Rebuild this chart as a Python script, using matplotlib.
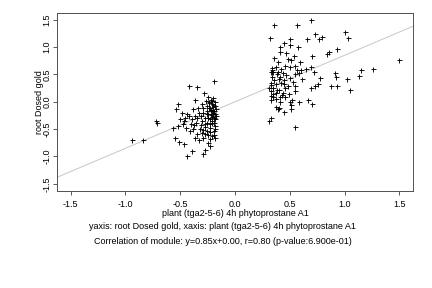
import matplotlib
matplotlib.use("Agg")
import matplotlib.pyplot as plt
import numpy as np

# left cluster (x, y)
left_x = [-0.417, -0.344, -0.189, -0.362, -0.280, -0.243, -0.222, -0.204, -0.234, -0.210,
          -0.252, -0.228, -0.198, -0.182, -0.173, -0.213, -0.259, -0.289, -0.243, -0.198,
          -0.173, -0.274, -0.228, -0.182, -0.304, -0.259, -0.213, -0.313, -0.274, -0.228,
          -0.182, -0.319, -0.350, -0.304, -0.274, -0.243, -0.213, -0.192, -0.182, -0.289,
          -0.228, -0.182, -0.517, -0.538, -0.484, -0.435, -0.456, -0.502, -0.465, -0.477,
          -0.517, -0.563, -0.447, -0.404, -0.374, -0.395, -0.417, -0.365, -0.344, -0.325,
          -0.380, -0.547, -0.508, -0.465, -0.228, -0.274, -0.395, -0.435, -0.289, -0.365,
          -0.325, -0.249, -0.411, -0.380, -0.356, -0.335, -0.304, -0.265, -0.289, -0.192,
          -0.210, -0.252, -0.289, -0.313,
          -0.94, -0.84, -0.72, -0.71,
          -0.22, -0.20, -0.24, -0.19, -0.21, -0.23, -0.18, -0.25, -0.20, -0.24,
          -0.19, -0.22, -0.26, -0.18, -0.21, -0.23, -0.19, -0.27]
left_y = [0.295, 0.277, 0.387, 0.037, 0.154, 0.092, 0.037, 0.061, -0.025, -0.043,
          -0.074, -0.105, -0.086, -0.012, -0.135, -0.166, -0.166, -0.197, -0.228, -0.228,
          -0.258, -0.289, -0.308, -0.320, -0.351, -0.381, -0.394, -0.430, -0.455, -0.474,
          -0.443, -0.504, -0.597, -0.578, -0.597, -0.615, -0.627, -0.535, -0.504, -0.658,
          -0.677, -0.658, -0.043, -0.135, -0.197, -0.228, -0.289, -0.320, -0.351, -0.412,
          -0.443, -0.474, -0.474, -0.412, -0.430, -0.320, -0.258, -0.258, -0.289, -0.197,
          -0.135, -0.658, -0.738, -0.763, -0.800, -0.873, -0.904, -0.996, -0.947, -0.658,
          -0.701, -0.750, -0.535, -0.504, -0.381, -0.105, -0.043, 0.018, -0.105, -0.166,
          -0.271, -0.535, -0.517, -0.258,
          -0.70, -0.70, -0.35, -0.39,
          -0.15, -0.20, -0.12, -0.30, -0.35, -0.40, -0.08, -0.30, -0.05, 0.00,
          -0.38, -0.25, -0.22, -0.22, 0.02, -0.55, -0.60, -0.40]

# right cluster
right_x = [0.36, 0.57, 0.69, 0.32, 0.50, 0.45, 0.41, 0.50, 0.575, 0.66,
           0.73, 0.77, 0.79, 1.00, 1.03, 0.41, 0.465, 0.36, 0.48, 0.51,
           0.54, 0.59, 0.705, 0.84, 0.86, 0.93, 0.395, 1.50, 0.34, 0.377,
           0.42, 0.456, 0.50, 0.545, 0.57, 0.60, 0.65, 0.69, 0.72, 0.33,
           0.34, 0.35, 0.38, 0.41, 0.47, 0.50, 0.55, 0.58, 0.61, 0.78,
           0.915, 0.92, 1.025, 1.13, 1.15, 1.26, 0.33, 0.37, 0.45, 0.45,
           0.48, 0.53, 0.545, 0.755, 0.73, 0.875, 0.93, 1.05, 0.69, 0.31,
           0.345, 0.33, 0.37, 0.40, 0.435, 0.49, 0.545, 0.33, 0.35, 0.37,
           0.41, 0.456, 0.52, 0.33, 0.41, 0.505, 0.58, 0.67, 0.70, 0.51,
           0.37, 0.40, 0.39, 0.445, 0.515, 0.31, 0.33, 0.55,
           0.34, 0.36, 0.33, 0.38, 0.42, 0.44, 0.35, 0.39, 0.46, 0.43, 0.34, 0.40]
right_y = [1.40, 1.40, 1.49, 1.16, 1.14, 1.08, 1.01, 1.03, 1.01, 1.14,
           1.24, 1.14, 1.18, 1.27, 1.16, 0.92, 0.90, 0.81, 0.79, 0.77,
           0.83, 0.73, 0.83, 0.88, 0.92, 0.96, 0.73, 0.76, 0.62, 0.63,
           0.60, 0.65, 0.63, 0.66, 0.58, 0.59, 0.60, 0.64, 0.55, 0.54,
           0.55, 0.54, 0.51, 0.46, 0.49, 0.44, 0.50, 0.52, 0.41, 0.44,
           0.535, 0.46, 0.41, 0.48, 0.58, 0.60, 0.345, 0.33, 0.40, 0.33,
           0.29, 0.37, 0.28, 0.33, 0.295, 0.295, 0.295, 0.22, 0.25, 0.25,
           0.26, 0.19, 0.17, 0.215, 0.17, 0.15, 0.20, 0.11, 0.09, 0.06,
           0.08, 0.08, 0.04, 0.04, 0.00, 0.00, 0.005, 0.04, -0.04, -0.055,
           -0.09, -0.12, -0.135, -0.18, -0.135, -0.35, -0.30, -0.46,
           0.45, 0.40, 0.30, 0.22, 0.35, 0.52, 0.15, 0.55, 0.25, 0.12, 0.58, 0.42]

slope = 0.85
intercept = 0.00
xticks = [-1.5, -1.0, -0.5, 0.0, 0.5, 1.0, 1.5]
yticks = [-1.5, -1.0, -0.5, 0.0, 0.5, 1.0, 1.5]

plt.rcParams['font.family'] = ['Liberation Sans', 'DejaVu Sans']

fig = plt.figure(figsize=(6, 4), dpi=72)
ax = fig.add_axes([0.132, 0.338, 0.824, 0.617])

lim = 1.625
ax.plot([-lim, lim], [slope * -lim + intercept, slope * lim + intercept],
        color='#c8c8c8', linewidth=1, zorder=1)
ax.scatter(left_x + right_x, left_y + right_y, marker='+', s=25,
           color='black', linewidths=0.9, zorder=2)

ax.set_xlim(-lim, lim)
ax.set_ylim(-lim, lim)
ax.set_xticks(xticks)
ax.set_yticks(yticks)
ax.set_xticklabels(["%.1f" % t for t in xticks])
ax.set_yticklabels(["%.1f" % t for t in yticks], rotation=90, va='center')
ax.tick_params(labelsize=9, length=4, width=0.8, colors='#333333',
               labelcolor='black', pad=5)
ax.tick_params(axis='y', pad=1.5)
for s in ax.spines.values():
    s.set_color('#555555')
    s.set_linewidth(1)

ax.set_xlabel("plant (tga2-5-6) 4h phytoprostane A1", fontsize=9, labelpad=0)
ax.set_ylabel("root Dosed gold", fontsize=9, labelpad=-1)

fig.text(0.516, 0.215, "yaxis: root Dosed gold, xaxis: plant (tga2-5-6) 4h phytoprostane A1",
         ha='center', va='center', fontsize=9)
fig.text(0.516, 0.163, "Correlation of module: y=0.85x+0.00, r=0.80 (p-value:6.900e-01)",
         ha='center', va='center', fontsize=9)

fig.savefig("out.png", dpi=72)
